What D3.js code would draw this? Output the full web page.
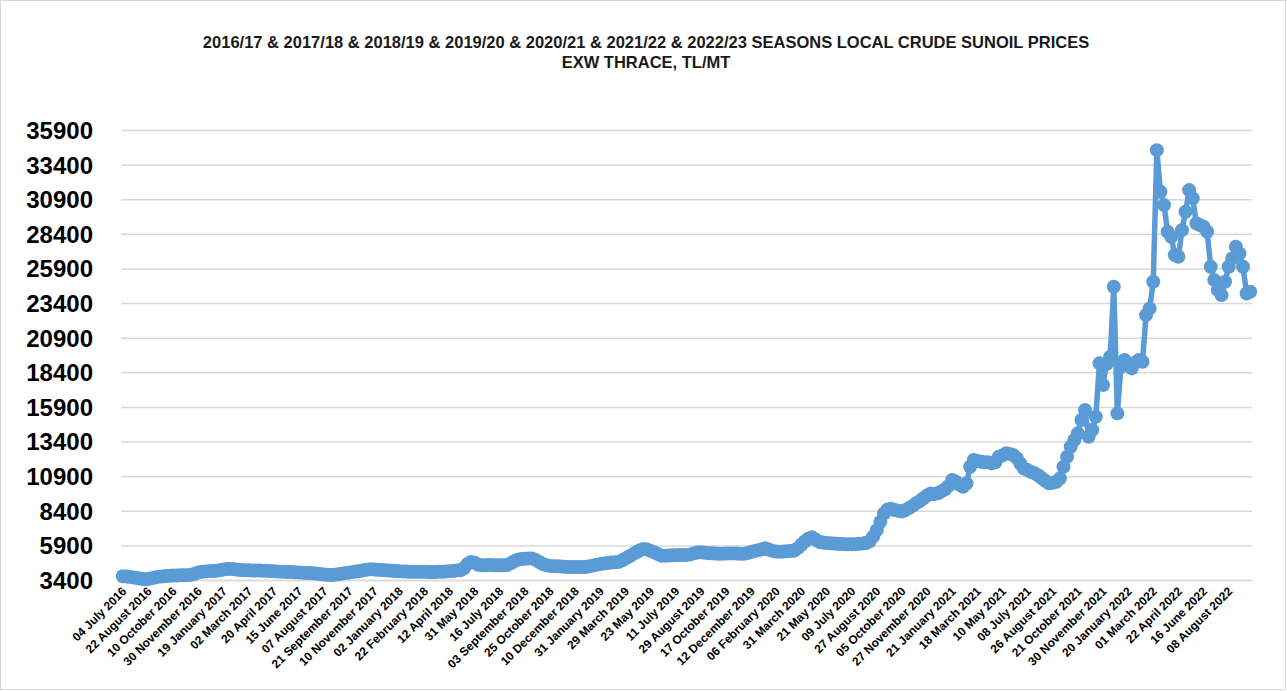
<!DOCTYPE html>
<html>
<head>
<meta charset="utf-8">
<script src="https://cdn.jsdelivr.net/npm/d3@7"></script>
<style>
  html, body { margin: 0; padding: 0; background: #fff; }
  svg { display: block; }
</style>
</head>
<body>
<svg id="chart" width="1287" height="691"></svg>
<script>
// ---- DATA ----
const titleLines = [
  "2016/17 & 2017/18 & 2018/19 & 2019/20 & 2020/21 & 2021/22 & 2022/23 SEASONS LOCAL CRUDE SUNOIL PRICES",
  "EXW THRACE, TL/MT"
];

// Category tick labels (shown on every 7th data point)
const tickLabels = [
  "04 July 2016", "22 August 2016", "10 October 2016", "30 November 2016", "19 January 2017",
  "02 March 2017", "20 April 2017", "15 June 2017", "07 August 2017", "21 September 2017",
  "10 November 2017", "02 January 2018", "22 February 2018", "12 April 2018", "31 May 2018",
  "16 July 2018", "03 September 2018", "25 October 2018", "10 December 2018", "31 January 2019",
  "29 March 2019", "23 May 2019", "11 July 2019", "29 August 2019", "17 October 2019",
  "12 December 2019", "06 February 2020", "31 March 2020", "21 May 2020", "09 July 2020",
  "27 August 2020", "05 October 2020", "27 November 2020", "21 January 2021", "18 March 2021",
  "10 May 2021", "08 July 2021", "26 August 2021", "21 October 2021", "30 November 2021",
  "20 January 2022", "01 March 2022", "22 April 2022", "16 June 2022", "08 August 2022"
];
const labelEvery = 7;

// Y-axis tick values
const yTicks = [3400, 5900, 8400, 10900, 13400, 15900, 18400, 20900, 23400, 25900, 28400, 30900, 33400, 35900];

const prices = [
  // 0-19
  3670, 3650, 3620, 3580, 3540, 3490, 3450, 3470, 3520, 3580,
  3630, 3660, 3680, 3700, 3720, 3730, 3740, 3740, 3750, 3780,
  // 20-39
  3850, 3950, 3990, 4020, 4040, 4050, 4070, 4100, 4150, 4190,
  4200, 4170, 4140, 4120, 4110, 4100, 4090, 4080, 4080, 4070,
  // 40-59
  4060, 4050, 4040, 4020, 4000, 3990, 3980, 3970, 3960, 3950,
  3930, 3910, 3900, 3880, 3860, 3830, 3800, 3780, 3760, 3780,
  // 60-79
  3820, 3860, 3900, 3930, 3970, 4010, 4050, 4100, 4140, 4170,
  4160, 4140, 4120, 4100, 4080, 4060, 4050, 4030, 4020, 4010,
  // 80-99
  4000, 4000, 4000, 3990, 3990, 3980, 3980, 3980, 3990, 4000,
  4010, 4030, 4050, 4080, 4100, 4250, 4550, 4700, 4650, 4500,
  // 100-119
  4460, 4470, 4480, 4470, 4470, 4460, 4460, 4480, 4600, 4750,
  4870, 4920, 4940, 4960, 4960, 4850, 4700, 4550, 4460, 4420,
  // 120-139
  4400, 4390, 4380, 4360, 4340, 4340, 4330, 4330, 4335, 4340,
  4400, 4450, 4500, 4550, 4600, 4630, 4660, 4680, 4700, 4800,
  // 140-159
  4950, 5100, 5250, 5400, 5550, 5640, 5600, 5500, 5400, 5280,
  5160, 5150, 5170, 5180, 5190, 5200, 5205, 5210, 5250, 5320,
  // 160-179
  5380, 5400, 5370, 5340, 5330, 5310, 5300, 5300, 5310, 5320,
  5320, 5310, 5300, 5300, 5350, 5420, 5500, 5550, 5620, 5690,
  // 180-199
  5580, 5500, 5460, 5440, 5460, 5480, 5490, 5520, 5700, 5950,
  6200, 6400, 6480, 6300, 6150, 6100, 6070, 6050, 6030, 6010,
  // 200-219
  6000, 5990, 5980, 5980, 5990, 6010, 6040, 6070, 6200, 6550,
  7000, 7600, 8200, 8500, 8550, 8450, 8400, 8350, 8450, 8600,
  // 220-239
  8750, 8950, 9100, 9300, 9500, 9650, 9600, 9660, 9800, 9950,
  10200, 10620, 10500, 10300, 10136, 10382, 11580, 12064, 12000, 11942,
  // 240-259
  11900, 11900, 11822, 11900, 12302, 12400, 12548, 12500, 12425, 12200,
  11800, 11450, 11340, 11200, 11104, 10950, 10743, 10550, 10382, 10420,
  // 260-279
  10497, 10743, 11580, 12302, 13024, 13508, 13990, 14952, 15673, 13750,
  14230, 15190, 19046, 17479, 19000, 19527, 24577, 15435, 18800, 19284,
  // 280-299
  18900, 18684, 19100, 19284, 19163, 22533, 23017, 24937, 34446, 31436,
  30475, 28550, 28189, 26865, 26743, 28671, 29993, 31558, 30959, 29154,
  // 300-314
  29031, 28912, 28550, 26020, 25060, 24338, 23977, 24937, 26020, 26623,
  27466, 26984, 26020, 24097, 24218
];

// ---- LAYOUT ----
const W = 1287, H = 691;
const plot = { left: 121, right: 1252, top: 130, bottom: 580 };
const lineColor = "#5B9BD5";
const gridColor = "#d9d9d9";

const svg = d3.select("#chart");

// Outer chart border
svg.append("rect")
  .attr("x", 0.5).attr("y", 0.5)
  .attr("width", W - 2).attr("height", H - 2)
  .attr("fill", "#fff")
  .attr("stroke", gridColor)
  .attr("stroke-width", 1);

// Title
const title = svg.append("g")
  .attr("font-family", "'Liberation Sans Narrow', 'Arial Narrow', 'Liberation Sans', sans-serif")
  .attr("font-weight", "bold")
  .attr("font-size", 16.5)
  .attr("fill", "#1a1a1a")
  .attr("text-anchor", "middle");
title.selectAll("text").data(titleLines).join("text")
  .attr("x", 646)
  .attr("y", (d, i) => 48 + i * 20)
  .text(d => d);

// Scales
const x = d3.scalePoint()
  .domain(d3.range(prices.length))
  .range([plot.left, plot.right])
  .padding(0.5);

const y = d3.scaleLinear()
  .domain([yTicks[0], yTicks[yTicks.length - 1]])
  .range([plot.bottom, plot.top]);

// Gridlines (through the y axis)
const yAxis = d3.axisLeft(y)
  .tickValues(yTicks)
  .tickSize(-(plot.right - plot.left))
  .tickPadding(28)
  .tickFormat(d3.format("d"));

const gY = svg.append("g")
  .attr("transform", `translate(${plot.left},0)`)
  .call(yAxis);
gY.select(".domain").remove();
gY.selectAll(".tick line")
  .attr("stroke", gridColor)
  .attr("stroke-width", 1.5);
gY.selectAll(".tick text")
  .attr("font-family", "'Liberation Sans', Arial, sans-serif")
  .attr("font-weight", "bold")
  .attr("font-size", 24)
  .attr("fill", "#000")
  .attr("dy", "0.35em");

// X axis (category axis, labels every 7th point)
const xTickIdx = tickLabels.map((_, k) => k * labelEvery);
const xAxis = d3.axisBottom(x)
  .tickValues(xTickIdx)
  .tickSize(0)
  .tickFormat(i => tickLabels[i / labelEvery]);

const gX = svg.append("g")
  .attr("transform", `translate(0,${plot.bottom})`)
  .call(xAxis);
gX.select(".domain")
  .attr("stroke", gridColor)
  .attr("stroke-width", 1.5);
gX.selectAll(".tick text")
  .attr("font-family", "'Liberation Sans', Arial, sans-serif")
  .attr("font-weight", "bold")
  .attr("font-size", 12)
  .attr("fill", "#000")
  .attr("text-anchor", "end")
  .attr("dy", null)
  .attr("y", 0)
  .attr("transform", "translate(4,12) rotate(-45)");

// Line
const line = d3.line()
  .x((d, i) => x(i))
  .y(d => y(d));

svg.append("path")
  .datum(prices)
  .attr("fill", "none")
  .attr("stroke", lineColor)
  .attr("stroke-width", 5.5)
  .attr("stroke-linejoin", "round")
  .attr("stroke-linecap", "round")
  .attr("d", line);

// Markers
svg.append("g")
  .selectAll("circle")
  .data(prices)
  .join("circle")
  .attr("cx", (d, i) => x(i))
  .attr("cy", d => y(d))
  .attr("r", 7)
  .attr("fill", lineColor);
</script>
</body>
</html>
